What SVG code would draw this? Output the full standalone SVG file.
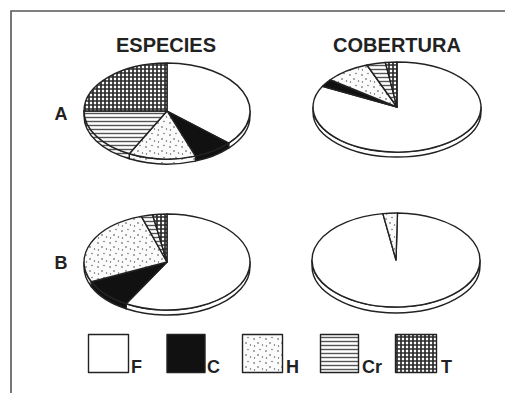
<svg xmlns="http://www.w3.org/2000/svg" width="505" height="393" viewBox="0 0 505 393">
<style>
.t{font-family:"Liberation Sans",Arial,sans-serif;font-weight:bold;fill:#222}
.s{stroke:#222;stroke-width:1.4;stroke-linejoin:round}
.F{fill:#fff}.C{fill:#111}.H{fill:url(#pH)}.Cr{fill:url(#pCr)}.T{fill:url(#pT)}
</style>
<defs>
<pattern id="pT" width="4" height="4" patternUnits="userSpaceOnUse"><rect width="4" height="4" fill="#fff"/><path d="M0,1H4M1,0V4" stroke="#2a2a2a" stroke-width="1.7"/></pattern>
<pattern id="pCr" width="4" height="4" patternUnits="userSpaceOnUse"><rect width="4" height="4" fill="#fff"/><path d="M0,1.5H4" stroke="#555" stroke-width="1.4"/></pattern>
<pattern id="pH" width="12" height="12" patternUnits="userSpaceOnUse"><rect width="12" height="12" fill="#fbfbfb"/><circle cx="2" cy="3" r="0.8" fill="#444"/><circle cx="8" cy="1.5" r="0.7" fill="#555"/><circle cx="6" cy="7" r="0.8" fill="#444"/><circle cx="10.5" cy="9" r="0.7" fill="#555"/><circle cx="2.5" cy="10" r="0.7" fill="#555"/></pattern>
</defs>
<rect width="505" height="393" fill="#fff"/>
<path d="M11,393V11H505" fill="none" stroke="#555" stroke-width="1.6"/>
<text class="t" x="166" y="52" font-size="20" text-anchor="middle">ESPECIES</text>
<text class="t" x="397" y="52" font-size="20" text-anchor="middle">COBERTURA</text>
<text class="t" x="61" y="120" font-size="18" text-anchor="middle">A</text>
<text class="t" x="61" y="269" font-size="18" text-anchor="middle">B</text>
<g id="pieAesp" class="s">
<path class="F" d="M250,111 A83,48 0 0 1 228.68,143.12 L228.68,148.12 A83,48 0 0 0 250,116 Z"/>
<path class="C" d="M228.68,143.12 A83,48 0 0 1 195.39,156.11 L195.39,161.11 A83,48 0 0 0 228.68,148.12 Z"/>
<path class="H" d="M195.39,156.11 A83,48 0 0 1 129.32,153.77 L129.32,158.77 A83,48 0 0 0 195.39,161.11 Z"/>
<path class="Cr" d="M129.32,153.77 A83,48 0 0 1 84,111 L84,116 A83,48 0 0 0 129.32,158.77 Z"/>
<path class="F" d="M167,111 L167,63 A83,48 0 0 1 228.68,143.12 Z"/>
<path class="C" d="M167,111 L228.68,143.12 A83,48 0 0 1 195.39,156.11 Z"/>
<path class="H" d="M167,111 L195.39,156.11 A83,48 0 0 1 129.32,153.77 Z"/>
<path class="Cr" d="M167,111 L129.32,153.77 A83,48 0 0 1 84,111 Z"/>
<path class="T" d="M167,111 L84,111 A83,48 0 0 1 167,63 Z"/>
</g>
<g id="pieAcob" class="s">
<path class="F" d="M481,107 A84,45 0 0 1 313,107 L313,112 A84,45 0 0 0 481,112 Z"/>
<path class="F" d="M397,107 L397,62 A84,45 0 1 1 322.42,86.29 Z"/>
<path class="C" d="M397,107 L322.42,86.29 A84,45 0 0 1 330.18,79.73 Z"/>
<path class="H" d="M397,107 L330.18,79.73 A84,45 0 0 1 366.9,64.99 Z"/>
<path class="Cr" d="M397,107 L366.9,64.99 A84,45 0 0 1 385.31,62.44 Z"/>
<path class="T" d="M397,107 L385.31,62.44 A84,45 0 0 1 397,62 Z"/>
</g>
<g id="pieBesp" class="s">
<path class="F" d="M250,262 A83,48 0 0 1 126.13,303.78 L126.13,308.78 A83,48 0 0 0 250,267 Z"/>
<path class="C" d="M126.13,303.78 A83,48 0 0 1 91.35,281.75 L91.35,286.75 A83,48 0 0 0 126.13,308.78 Z"/>
<path class="H" d="M91.35,281.75 A83,48 0 0 1 84,262 L84,267 A83,48 0 0 0 91.35,286.75 Z"/>
<path class="F" d="M167,262 L167,214 A83,48 0 1 1 126.13,303.78 Z"/>
<path class="C" d="M167,262 L126.13,303.78 A83,48 0 0 1 91.35,281.75 Z"/>
<path class="H" d="M167,262 L91.35,281.75 A83,48 0 0 1 141.35,216.35 Z"/>
<path class="Cr" d="M167,262 L141.35,216.35 A83,48 0 0 1 152.59,214.73 Z"/>
<path class="T" d="M167,262 L152.59,214.73 A83,48 0 0 1 167,214 Z"/>
</g>
<g id="pieBcob" class="s">
<path class="F" d="M480,260 A84,47 0 0 1 312,260 L312,266 A84,47 0 0 0 480,266 Z"/>
<path class="F" d="M396,260 L397.47,213.01 A84,47 0 1 1 382.86,213.58 Z"/>
<path class="H" d="M396,260 L382.86,213.58 A84,47 0 0 1 397.47,213.01 Z"/>
</g>
<g id="legF"><rect class="s F" x="88.5" y="334.5" width="40" height="38" stroke-width="2"/><text class="t" x="131" y="373" font-size="18">F</text></g>
<g id="legC"><rect class="s C" x="167" y="334.5" width="38" height="38" stroke-width="2"/><text class="t" x="207" y="373" font-size="18">C</text></g>
<g id="legH"><rect class="s H" x="242.5" y="334.5" width="40" height="38" stroke-width="2"/><text class="t" x="286" y="373" font-size="18">H</text></g>
<g id="legCr"><rect class="s Cr" x="320.5" y="334.5" width="38" height="38" stroke-width="2"/><text class="t" x="362" y="373" font-size="18">Cr</text></g>
<g id="legT"><rect class="s T" x="395.5" y="334.5" width="41" height="38" stroke-width="2"/><text class="t" x="441" y="373" font-size="18">T</text></g>
</svg>
